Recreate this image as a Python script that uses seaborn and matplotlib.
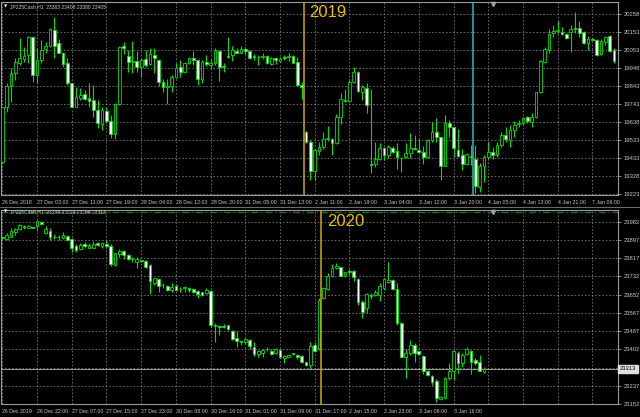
import numpy as np
import matplotlib
matplotlib.use('Agg')
import matplotlib.pyplot as plt
import seaborn as sns

# JP225Cash H1, around new year 2019 (top) and 2020 (bottom)
top_open = [19406, 19723, 19845, 19922, 19976, 19999, 20024, 20129, 19909, 19995,
            20056, 20075, 20167, 20091, 20037, 19976, 19861, 19727, 19775, 19799,
            19775, 19765, 19707, 19627, 19702, 19646, 19569, 19740, 20075, 20018,
            19985, 19989, 19957, 20001, 19970, 20024, 19995, 19867, 19838, 19847,
            19895, 19953, 19928, 19976, 20008, 19995, 19886, 19985, 19966, 19976,
            20049, 19959, 20016, 20024, 20049, 20037, 20056, 20049, 20016, 20014,
            20010, 20018, 19970, 20005, 19991, 20012, 20010, 20018, 19985, 19851,
            19583, 19525, 19359, 19474, 19497, 19541, 19539, 19516, 19665, 19765,
            19761, 19867, 19928, 19813, 19832, 19397, 19395, 19426, 19487, 19449,
            19491, 19472, 19433, 19435, 19458, 19489, 19477, 19464, 19435, 19535,
            19579, 19550, 19387, 19631, 19608, 19477, 19449, 19397, 19441, 19424,
            19267, 19387, 19435, 19468, 19449, 19506, 19564, 19535, 19592, 19629,
            19631, 19665, 19640, 19665, 19809, 19985, 20052, 20148, 20162, 20158,
            20145, 20154, 20181, 20177, 20154, 20095, 20114, 20110, 20028, 20100,
            20133, 20052]
top_high = [19727, 19865, 19947, 20005, 20120, 20072, 20133, 20133, 20062, 20110,
            20100, 20177, 20240, 20114, 20043, 20005, 19865, 19838, 19832, 19822,
            19861, 19851, 19765, 19727, 19727, 19679, 19746, 20075, 20100, 20052,
            20104, 20049, 20005, 20052, 20062, 20066, 19999, 19884, 19884, 19909,
            19976, 19995, 19985, 20014, 20049, 19999, 19995, 20024, 19999, 20062,
            20052, 19976, 20125, 20075, 20062, 20075, 20072, 20052, 20029, 20022,
            20033, 20024, 20014, 20010, 20014, 20024, 20037, 20024, 20010, 19870,
            19589, 19535, 19487, 19525, 19583, 19615, 19544, 19684, 19807, 19826,
            19880, 19957, 19934, 19851, 19861, 19826, 19525, 19516, 19497, 19506,
            19500, 19516, 19439, 19520, 19577, 19564, 19539, 19500, 19539, 19640,
            19659, 19554, 19679, 19650, 19612, 19596, 19481, 19462, 19506, 19506,
            19401, 19449, 19525, 19497, 19525, 19583, 19612, 19621, 19646, 19650,
            19669, 19673, 19688, 19813, 19995, 20068, 20171, 20196, 20221, 20187,
            20152, 20196, 20273, 20221, 20164, 20133, 20120, 20114, 20114, 20133,
            20139, 20062]
top_low = [19401, 19698, 19755, 19880, 19966, 19985, 19976, 19870, 19861, 19976,
           20037, 20072, 20005, 20033, 19957, 19851, 19723, 19723, 19765, 19765,
           19727, 19669, 19602, 19592, 19631, 19544, 19539, 19736, 20029, 19928,
           19922, 19928, 19895, 19957, 19966, 19918, 19845, 19813, 19742, 19813,
           19890, 19895, 19918, 19972, 19966, 19851, 19865, 19960, 19947, 19966,
           19876, 19928, 20008, 19991, 20033, 20033, 20029, 19999, 19995, 19966,
           19999, 19972, 19966, 19972, 19985, 19995, 19991, 19976, 19845, 19769,
           19520, 19305, 19305, 19449, 19481, 19531, 19449, 19512, 19627, 19755,
           19755, 19861, 19813, 19765, 19688, 19343, 19382, 19420, 19420, 19429,
           19458, 19366, 19353, 19429, 19429, 19477, 19458, 19397, 19429, 19525,
           19525, 19305, 19385, 19554, 19439, 19439, 19362, 19391, 19391, 19232,
           19238, 19295, 19424, 19424, 19439, 19497, 19525, 19497, 19554, 19612,
           19621, 19635, 19608, 19659, 19803, 19980, 20033, 20129, 20152, 20139,
           20114, 20043, 20148, 20129, 20087, 20052, 20110, 20018, 20024, 20081,
           20043, 19980]
top_close = [19723, 19845, 19922, 19982, 20005, 20018, 20125, 19909, 19995, 20052,
             20075, 20171, 20075, 20037, 19970, 19861, 19727, 19780, 19794, 19771,
             19759, 19707, 19631, 19707, 19646, 19569, 19740, 20072, 20062, 19985,
             19989, 19953, 19995, 19966, 20029, 20008, 19870, 19838, 19845, 19899,
             19951, 19928, 19980, 20008, 19995, 19886, 19985, 19970, 19980, 20052,
             19957, 19955, 20012, 20052, 20037, 20056, 20049, 20005, 20012, 20012,
             20018, 19976, 20008, 19995, 20003, 20008, 20018, 19980, 19851, 19838,
             19525, 19359, 19477, 19497, 19539, 19546, 19520, 19665, 19769, 19761,
             19867, 19928, 19819, 19838, 19736, 19393, 19426, 19487, 19449, 19493,
             19468, 19435, 19429, 19462, 19487, 19485, 19468, 19435, 19535, 19583,
             19554, 19387, 19631, 19612, 19487, 19445, 19397, 19454, 19437, 19270,
             19387, 19439, 19468, 19449, 19506, 19564, 19539, 19592, 19621, 19633,
             19659, 19646, 19669, 19809, 19989, 20056, 20145, 20162, 20166, 20145,
             20120, 20173, 20171, 20152, 20095, 20114, 20112, 20024, 20104, 20125,
             20049, 19991]

bot_open = [23911, 23902, 23914, 23937, 23949, 23961, 23955, 23958, 23960, 23982,
            23929, 23940, 23914, 23913, 23906, 23917, 23902, 23869, 23857, 23879,
            23864, 23864, 23884, 23869, 23879, 23873, 23785, 23834, 23849, 23828,
            23813, 23800, 23807, 23805, 23785, 23702, 23722, 23696, 23691, 23669,
            23690, 23678, 23679, 23682, 23676, 23667, 23660, 23657, 23667, 23513,
            23507, 23507, 23510, 23487, 23452, 23439, 23433, 23445, 23414, 23381,
            23384, 23404, 23396, 23384, 23399, 23361, 23369, 23383, 23376, 23372,
            23342, 23331, 23422, 23403, 23635, 23676, 23737, 23770, 23775, 23737,
            23756, 23759, 23722, 23616, 23590, 23649, 23649, 23649, 23682, 23709,
            23717, 23676, 23523, 23366, 23384, 23422, 23392, 23373, 23304, 23281,
            23260, 23175, 23180, 23270, 23301, 23387, 23339, 23381, 23396, 23354,
            23342, 23298]
bot_high = [23914, 23929, 23955, 23952, 23970, 23967, 23967, 23964, 23990, 23985,
            23960, 23955, 23925, 23919, 23937, 23922, 23906, 23879, 23884, 23888,
            23884, 23894, 23891, 23888, 23899, 23879, 23841, 23857, 23853, 23834,
            23819, 23819, 23808, 23808, 23788, 23728, 23725, 23702, 23694, 23702,
            23697, 23687, 23691, 23687, 23679, 23672, 23664, 23682, 23672, 23520,
            23513, 23517, 23513, 23490, 23483, 23445, 23452, 23448, 23437, 23399,
            23402, 23414, 23402, 23407, 23402, 23376, 23379, 23387, 23381, 23376,
            23346, 23437, 23437, 23635, 23684, 23749, 23788, 23793, 23777, 23755,
            23767, 23762, 23725, 23626, 23658, 23657, 23672, 23702, 23727, 23800,
            23722, 23702, 23528, 23402, 23445, 23430, 23396, 23376, 23308, 23286,
            23266, 23190, 23278, 23339, 23399, 23392, 23384, 23414, 23399, 23361,
            23376, 23323]
bot_low = [23903, 23899, 23911, 23922, 23944, 23949, 23952, 23952, 23940, 23967,
           23925, 23899, 23903, 23900, 23903, 23896, 23843, 23846, 23853, 23861,
           23861, 23861, 23869, 23864, 23864, 23782, 23781, 23823, 23813, 23808,
           23800, 23770, 23797, 23773, 23652, 23694, 23661, 23682, 23667, 23661,
           23667, 23661, 23661, 23664, 23657, 23634, 23646, 23652, 23503, 23433,
           23467, 23498, 23490, 23445, 23414, 23422, 23426, 23402, 23372, 23369,
           23366, 23396, 23376, 23381, 23361, 23339, 23366, 23376, 23357, 23339,
           23326, 23311, 23392, 23399, 23631, 23672, 23732, 23767, 23732, 23732,
           23743, 23712, 23603, 23544, 23567, 23631, 23646, 23622, 23672, 23702,
           23672, 23513, 23366, 23270, 23376, 23346, 23376, 23290, 23281, 23240,
           23164, 23172, 23175, 23263, 23263, 23293, 23320, 23376, 23290, 23331,
           23301, 23293]
bot_close = [23906, 23922, 23940, 23949, 23967, 23958, 23964, 23955, 23985, 23970,
             23949, 23914, 23913, 23911, 23919, 23899, 23864, 23853, 23876, 23870,
             23876, 23879, 23876, 23884, 23869, 23788, 23838, 23849, 23828, 23813,
             23810, 23813, 23803, 23778, 23710, 23725, 23691, 23693, 23672, 23687,
             23672, 23675, 23687, 23672, 23661, 23652, 23649, 23672, 23512, 23508,
             23504, 23504, 23493, 23448, 23440, 23436, 23448, 23417, 23381, 23392,
             23399, 23401, 23381, 23402, 23366, 23372, 23376, 23380, 23366, 23342,
             23331, 23417, 23396, 23626, 23679, 23735, 23770, 23781, 23735, 23752,
             23753, 23729, 23618, 23572, 23653, 23644, 23661, 23691, 23722, 23717,
             23676, 23520, 23369, 23387, 23422, 23387, 23380, 23304, 23286, 23251,
             23180, 23184, 23270, 23304, 23396, 23339, 23376, 23402, 23346, 23339,
             23305, 23313]

top_times = ['26 Dec 2018', '27 Dec 03:00', '27 Dec 11:00', '27 Dec 19:00', '28 Dec 04:00',
             '28 Dec 12:00', '28 Dec 20:00', '31 Dec 05:00', '31 Dec 13:00', '2 Jan 11:00',
             '2 Jan 19:00', '3 Jan 04:00', '3 Jan 12:00', '3 Jan 20:00', '4 Jan 05:00',
             '4 Jan 13:00', '4 Jan 21:00', '7 Jan 06:00']
bot_times = ['26 Dec 2019', '26 Dec 22:00', '27 Dec 07:00', '27 Dec 15:00', '27 Dec 23:00',
             '30 Dec 08:00', '30 Dec 16:00', '31 Dec 01:00', '31 Dec 09:00', '31 Dec 17:00',
             '2 Jan 15:00', '2 Jan 23:00', '3 Jan 08:00', '3 Jan 16:00']
top_prices = ['20258', '20153', '20053', '19948', '19843', '19743', '19638', '19533',
              '19433', '19328', '19223']
bot_prices = ['23982', '23897', '23817', '23732', '23652', '23567', '23487', '23402',
              '', '23237', '23152']

sns.set_theme(style='dark', rc={'figure.facecolor': 'black', 'axes.facecolor': 'black',
                                'axes.edgecolor': '#9a9a9a', 'axes.linewidth': 0.8})
plt.rcParams['font.family'] = ['Liberation Sans', 'DejaVu Sans']

GREEN = '#00e000'
GRID = '#8a8a8a'
TXT = '#c8c8c8'


def candles(ax, o, h, l, c):
    o, h, l, c = map(np.asarray, (o, h, l, c))
    x = np.arange(len(o))
    ax.vlines(x, l, h, color=GREEN, lw=0.8, zorder=3)
    fill = np.where(c >= o, 'black', 'white')
    ax.bar(x, c - o, bottom=o, width=0.62, color=fill, edgecolor=GREEN,
           linewidth=0.6, zorder=4)


def style(ax, prices, times, ylo, yhi):
    ax.set_xlim(-0.2, 141.9)
    ax.set_ylim(ylo, yhi)
    ticks = np.linspace(float(prices[0]), float(prices[-1]), len(prices))
    ax.set_yticks(ticks, prices)
    ax.yaxis.tick_right()
    ax.set_xticks(np.arange(0, 137, 8))
    ax.set_xticklabels(times + [''] * (18 - len(times)), ha='left')
    ax.tick_params(axis='x', colors=TXT, labelsize=3.8, length=2, width=0.5, pad=1.2)
    ax.tick_params(axis='y', colors=TXT, labelsize=4.2, length=2, width=0.5, pad=2)
    ax.grid(True, color=GRID, linestyle=(0, (2.5, 2.5)), lw=0.5, zorder=1)
    for s in ax.spines.values():
        s.set_color('#9a9a9a')
        s.set_linewidth(0.8)


fig = plt.figure(figsize=(6.4, 4.17), dpi=100)
ax1 = fig.add_axes([0.0023, 0.5312, 0.9633, 0.4652])
ax2 = fig.add_axes([0.0023, 0.0305, 0.9633, 0.4671])

candles(ax1, top_open, top_high, top_low, top_close)
style(ax1, top_prices, top_times, 19216, 20332)
ax1.axvline(69.5, color='#d8a800', lw=1.1, zorder=5)
ax1.axvline(108.4, color='#30b8c8', lw=1.1, zorder=5)
ax1.text(70.8, 20268, '2019', color='#e8c000', fontsize=12, va='center', ha='left', zorder=6)
ax1.plot([113], [0.985], marker='v', ms=3, color='#a0a0a0',
         transform=ax1.get_xaxis_transform(), clip_on=False, zorder=6)

candles(ax2, bot_open, bot_high, bot_low, bot_close)
style(ax2, bot_prices, bot_times, 23152, 24037)
ax2.axvline(73.5, color='#d8a800', lw=1.1, zorder=5)
ax2.text(74.8, 23982, '2020', color='#e8c000', fontsize=12, va='center', ha='left', zorder=6)
ax2.axhline(24025, color='#0a7a0a', lw=1.0, linestyle=(0, (5, 2, 1, 2)), zorder=2)
ax2.axhline(bot_close[-1], color='#b4b4b4', lw=0.6, zorder=2)
ax2.plot([113], [0.985], marker='v', ms=3, color='#a0a0a0',
         transform=ax2.get_xaxis_transform(), clip_on=False, zorder=6)
ax2.text(1.003, bot_close[-1], str(bot_close[-1]), transform=ax2.get_yaxis_transform(),
         fontsize=4.2, color='black', va='center', ha='left',
         bbox=dict(boxstyle='square,pad=0.25', fc='#e0e0e0', ec='#e0e0e0'))

fig.text(4 / 640, 1 - 7 / 417, '\u25bc', color='white', fontsize=3, va='center',
         family='DejaVu Sans')
fig.text(10 / 640, 1 - 7 / 417, 'JP225Cash,H1  23383 23408 23380 23405', color=TXT,
         fontsize=3.6, va='center')
fig.text(4 / 640, 1 - 212 / 417, '\u25bc', color='white', fontsize=3, va='center',
         family='DejaVu Sans')
fig.text(10 / 640, 1 - 212 / 417, 'JP225Cash,H1  23298 23323 23298 23313', color=TXT,
         fontsize=3.6, va='center')
fig.add_artist(plt.Line2D([0, 1], [1 - 206.5 / 417] * 2, color='#6a6a6a', lw=0.8))

fig.savefig('out.png', dpi=100, facecolor='black')
